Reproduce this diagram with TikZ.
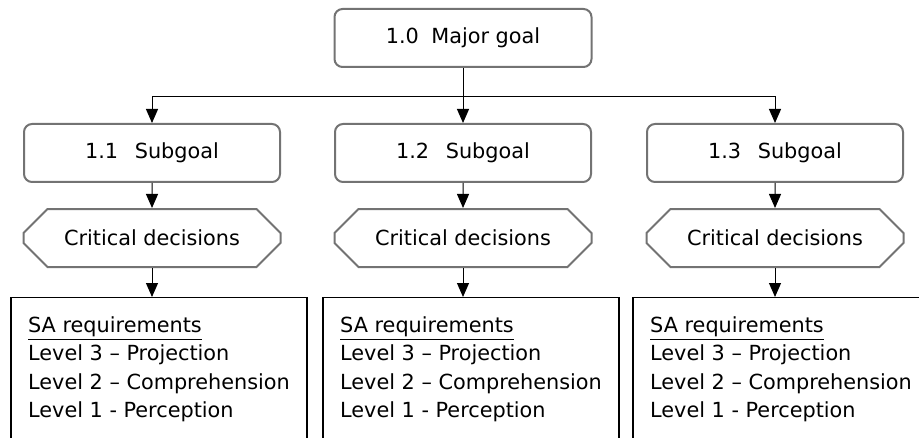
\documentclass[tikz,border=0pt]{standalone}
\usepackage{fontspec}
\setmainfont{DejaVu Sans}
\usepackage{tikz}
\usetikzlibrary{calc}
\usetikzlibrary{shapes.misc}
\usetikzlibrary{arrows.meta}

\begin{document}
\begin{tikzpicture}[x=0.5pt, y=-0.5pt,
  font=\fontsize{10.4}{14.15}\selectfont,
  goalbox/.style={draw=gray!90!black, line width=1pt, rounded corners=4pt,
    minimum width=128pt, minimum height=29pt, inner sep=0pt},
  decisionbox/.style={chamfered rectangle, chamfered rectangle xsep=9.5pt,
    chamfered rectangle ysep=8pt, draw=gray!90!black, line width=1pt,
    minimum width=128.5pt, minimum height=29pt, inner sep=0pt},
  reqbox/.style={draw=black, line width=0.7pt, anchor=north, align=left,
    minimum width=148pt, inner xsep=0pt, inner ysep=9.5pt},
  link/.style={-{Triangle[width=6pt,length=7pt]}, line width=0.5pt}]
  \path[use as bounding box, clip] (0,0) rectangle (919,438);

% goals
  \node[goalbox, minimum width=128.5pt] (goal) at (463,38) {1.0\hspace{0.6em}Major goal};
  \node[goalbox] (sub1) at (152,153) {1.1\hspace{0.8em}Subgoal};
  \node[goalbox] (sub2) at (463,153) {1.2\hspace{0.8em}Subgoal};
  \node[goalbox] (sub3) at (775,153) {1.3\hspace{0.8em}Subgoal};

% decisions
  \node[decisionbox] (dec1) at (152,238) {Critical decisions};
  \node[decisionbox] (dec2) at (463,238) {Critical decisions};
  \node[decisionbox] (dec3) at (775,238) {Critical decisions};

% requirements
  \node[reqbox] (req1) at (159,297) {\underline{SA requirements}\\
    Level 3 -- Projection\\ Level 2 -- Comprehension\\
    Level 1 - Perception\\[6pt]\mbox{}};
  \node[reqbox] (req2) at (471,297) {\underline{SA requirements}\\
    Level 3 -- Projection\\ Level 2 -- Comprehension\\
    Level 1 - Perception\\[6pt]\mbox{}};
  \node[reqbox] (req3) at (781,297) {\underline{SA requirements}\\
    Level 3 -- Projection\\ Level 2 -- Comprehension\\
    Level 1 - Perception\\[6pt]\mbox{}};

% links
  \coordinate (bus) at (goal.south |- 0,97);
  \draw[link] (goal.south) -- (sub2.north);
  \draw[link] (bus) -| (sub1.north);
  \draw[link] (bus) -| (sub3.north);
  \draw[link] (sub1) -- (dec1);
  \draw[link] (sub2) -- (dec2);
  \draw[link] (sub3) -- (dec3);
  \draw[link] (dec1.south) -- (dec1.south |- req1.north);
  \draw[link] (dec2.south) -- (dec2.south |- req2.north);
  \draw[link] (dec3.south) -- (dec3.south |- req3.north);

\end{tikzpicture}
\end{document}
